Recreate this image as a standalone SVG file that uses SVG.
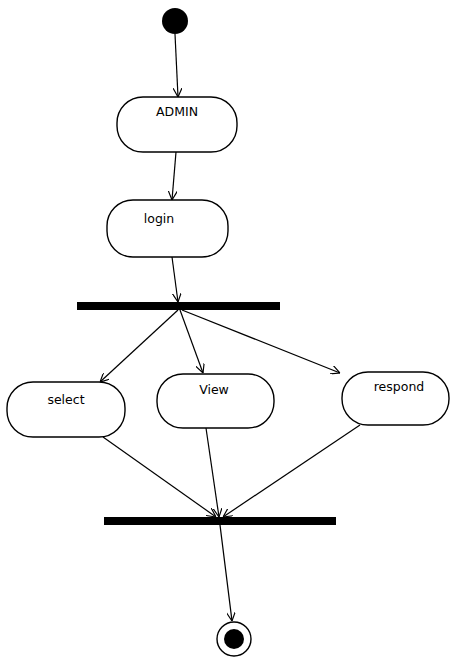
<svg xmlns="http://www.w3.org/2000/svg" width="459" height="658" viewBox="0 0 459 658">
<defs>
<style>
.node{fill:#fff;stroke:#000;stroke-width:1.4}
.bar{fill:#000}
.edge{fill:none;stroke:#000;stroke-width:1.2}
.lbl{font-family:"DejaVu Sans",sans-serif;font-size:12.5px;fill:#000;text-anchor:middle}
</style>
<marker id="arr" viewBox="0 0 10 10" refX="10" refY="5" markerWidth="9" markerHeight="9" orient="auto" markerUnits="userSpaceOnUse">
<path d="M0,0 L10,5 L0,10" fill="none" stroke="#000" stroke-width="1.3"/>
</marker>
</defs>
<rect width="459" height="658" fill="#fff"/>
<g id="connectors">
<line class="edge" x1="175" y1="34" x2="178" y2="97" marker-end="url(#arr)"/>
<line class="edge" x1="176" y1="152" x2="172" y2="200" marker-end="url(#arr)"/>
<line class="edge" x1="172" y1="257" x2="178" y2="302" marker-end="url(#arr)"/>
<line class="edge" x1="178" y1="310" x2="100" y2="382" marker-end="url(#arr)"/>
<line class="edge" x1="180" y1="310" x2="203" y2="373" marker-end="url(#arr)"/>
<line class="edge" x1="182" y1="310" x2="340" y2="373" marker-end="url(#arr)"/>
<line class="edge" x1="103" y1="437" x2="216" y2="517" marker-end="url(#arr)"/>
<line class="edge" x1="206" y1="428" x2="219" y2="517" marker-end="url(#arr)"/>
<line class="edge" x1="360" y1="425" x2="223" y2="517" marker-end="url(#arr)"/>
<line class="edge" x1="220" y1="525" x2="232" y2="621" marker-end="url(#arr)"/>
</g>
<g id="start"><circle cx="175" cy="21" r="13" fill="#000"/></g>
<g id="admin"><rect class="node" x="117" y="97" width="120" height="55" rx="26" ry="26"/><text class="lbl" x="177" y="116">ADMIN</text></g>
<g id="login"><rect class="node" x="107" y="200" width="121" height="57" rx="26" ry="26"/><text class="lbl" x="159" y="223">login</text></g>
<g id="fork"><rect class="bar" x="77" y="302" width="203" height="8"/></g>
<g id="select"><rect class="node" x="7" y="382" width="118" height="55" rx="26" ry="26"/><text class="lbl" x="66" y="404">select</text></g>
<g id="view"><rect class="node" x="157" y="374" width="117" height="54" rx="26" ry="26"/><text class="lbl" x="214" y="394">View</text></g>
<g id="respond"><rect class="node" x="342" y="372" width="107" height="53" rx="26" ry="26"/><text class="lbl" x="399" y="391">respond</text></g>
<g id="join"><rect class="bar" x="104" y="517" width="232" height="8"/></g>
<g id="end"><circle cx="234" cy="639" r="17" fill="#fff" stroke="#000" stroke-width="1.4"/><circle cx="234" cy="639" r="10" fill="#000"/></g>
</svg>
